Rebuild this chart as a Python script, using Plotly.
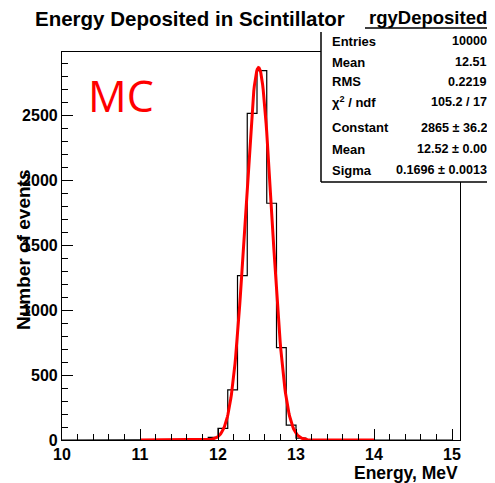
import plotly.graph_objects as go
import numpy as np

# ---- data ----
bin_start = 10.0
bin_width = 0.125
counts = [0, 0, 0, 0, 0, 0, 0, 0, 0, 0,
          0, 0, 0, 0, 3, 20, 90, 385, 1264, 2513,
          2841, 1821, 710, 115, 15, 2, 0, 0, 0, 0,
          0, 0, 0, 0, 0, 0, 0, 0, 0, 0]
fit_constant = 2865.0
fit_mean = 12.52
fit_sigma = 0.1696
fit_range = [11.0, 14.0]
x_ticks = [10, 11, 12, 13, 14, 15]
y_ticks = [0, 500, 1000, 1500, 2000, 2500]
stats_labels = ["Entries", "Mean", "RMS", "χ<sup>2</sup> / ndf", "Constant", "Mean", "Sigma"]
stats_values = ["10000", "12.51", "0.2219", "105.2 / 17", "2865 ± 36.2", "12.52 ± 0.00", "0.1696 ± 0.0013"]

# ---- histogram outline (step) ----
edges = [bin_start + i * bin_width for i in range(len(counts) + 1)]
hx = [edges[0]]
hy = [0]
for i, c in enumerate(counts):
    hx += [edges[i], edges[i + 1]]
    hy += [c, c]
hx.append(edges[-1])
hy.append(0)

fx = np.linspace(fit_range[0], fit_range[1], 400)
fy = fit_constant * np.exp(-0.5 * ((fx - fit_mean) / fit_sigma) ** 2)

OFF = 8  # page body margin
W, H = 495 - OFF, 483 - OFF
L, R, T, B = 62 - OFF, 460 - OFF, 52 - OFF, 440 - OFF

def px(x):
    return (x - OFF - L) / (R - L)

def py(y):
    return (B - (y - OFF)) / (B - T)

fig = go.Figure()
fig.add_trace(go.Scatter(x=hx, y=hy, mode="lines", line=dict(color="black", width=1.2),
                         hoverinfo="skip", showlegend=False))
fig.add_trace(go.Scatter(x=fx, y=fy, mode="lines", line=dict(color="#ff0000", width=3),
                         hoverinfo="skip", showlegend=False))

tickfont = dict(family="Liberation Sans, Arial", size=16, color="black", weight="bold")
fig.update_xaxes(range=[10, 10 + (R - L) / 78.0], tickvals=x_ticks, ticks="inside", ticklen=11,
                 tickwidth=1, tickcolor="black", showline=True, linecolor="black", linewidth=1.2,
                 mirror=True, showgrid=False, zeroline=False, tickfont=tickfont,
                 minor=dict(dtick=0.2, ticks="inside", ticklen=6, tickcolor="black", tickwidth=1))
fig.update_yaxes(range=[0, (B - T) / 0.13], tickvals=y_ticks, ticks="inside", ticklen=11,
                 tickwidth=1, tickcolor="black", showline=True, linecolor="black", linewidth=1.2,
                 mirror=True, showgrid=False, zeroline=False, tickfont=tickfont,
                 minor=dict(dtick=100, ticks="inside", ticklen=6, tickcolor="black", tickwidth=1))

shapes = []
shapes.append(dict(type="rect", xref="paper", yref="paper", x0=px(321), x1=px(497), y0=py(182), y1=py(7),
                   fillcolor="white", line=dict(width=0), layer="above"))
for (x0, y0, x1, y1) in [(320, 7, 497, 7), (365, 28, 497, 28), (321, 32, 321, 182), (321, 182, 497, 182)]:
    shapes.append(dict(type="line", xref="paper", yref="paper", x0=px(x0), x1=px(x1), y0=py(y0), y1=py(y1),
                       line=dict(color="black", width=1.5), layer="above"))
fig.update_layout(shapes=shapes)

ann = []
bold = dict(family="Liberation Sans, Arial", color="black", weight="bold")
ann.append(dict(text="Energy Deposited in Scintillator", x=px(33), y=py(18), xanchor="left", yanchor="middle",
                font=dict(size=20.5, **bold)))
ann.append(dict(text="rgyDeposited", x=px(489), y=py(17), xanchor="right", yanchor="middle",
                font=dict(size=18.5, **bold)))
row_y = [41, 62, 82, 102, 128, 149, 170]
for lab, val, yy in zip(stats_labels, stats_values, row_y):
    ann.append(dict(text=lab, x=px(330), y=py(yy), xanchor="left", yanchor="middle", font=dict(size=13, **bold)))
    ann.append(dict(text=val, x=px(489), y=py(yy), xanchor="right", yanchor="middle", font=dict(size=12.6, **bold)))
ann.append(dict(text="MC", x=px(86), y=py(95), xanchor="left", yanchor="middle",
                font=dict(family="Open Sans, Liberation Sans", size=43, color="#ff0000")))
ann.append(dict(text="Energy, MeV", x=px(460), y=py(473), xanchor="right", yanchor="middle",
                font=dict(size=17.5, **bold)))
ann.append(dict(text="Number of events", x=px(23), y=py(250), xanchor="center", yanchor="middle", textangle=-90,
                font=dict(size=19, **bold)))
for a in ann:
    a.update(xref="paper", yref="paper", showarrow=False)
fig.update_layout(annotations=ann)

fig.update_layout(width=W, height=H, margin=dict(l=L, r=W - R, t=T, b=H - B),
                  paper_bgcolor="white", plot_bgcolor="white")

fig.write_html("out.html")
